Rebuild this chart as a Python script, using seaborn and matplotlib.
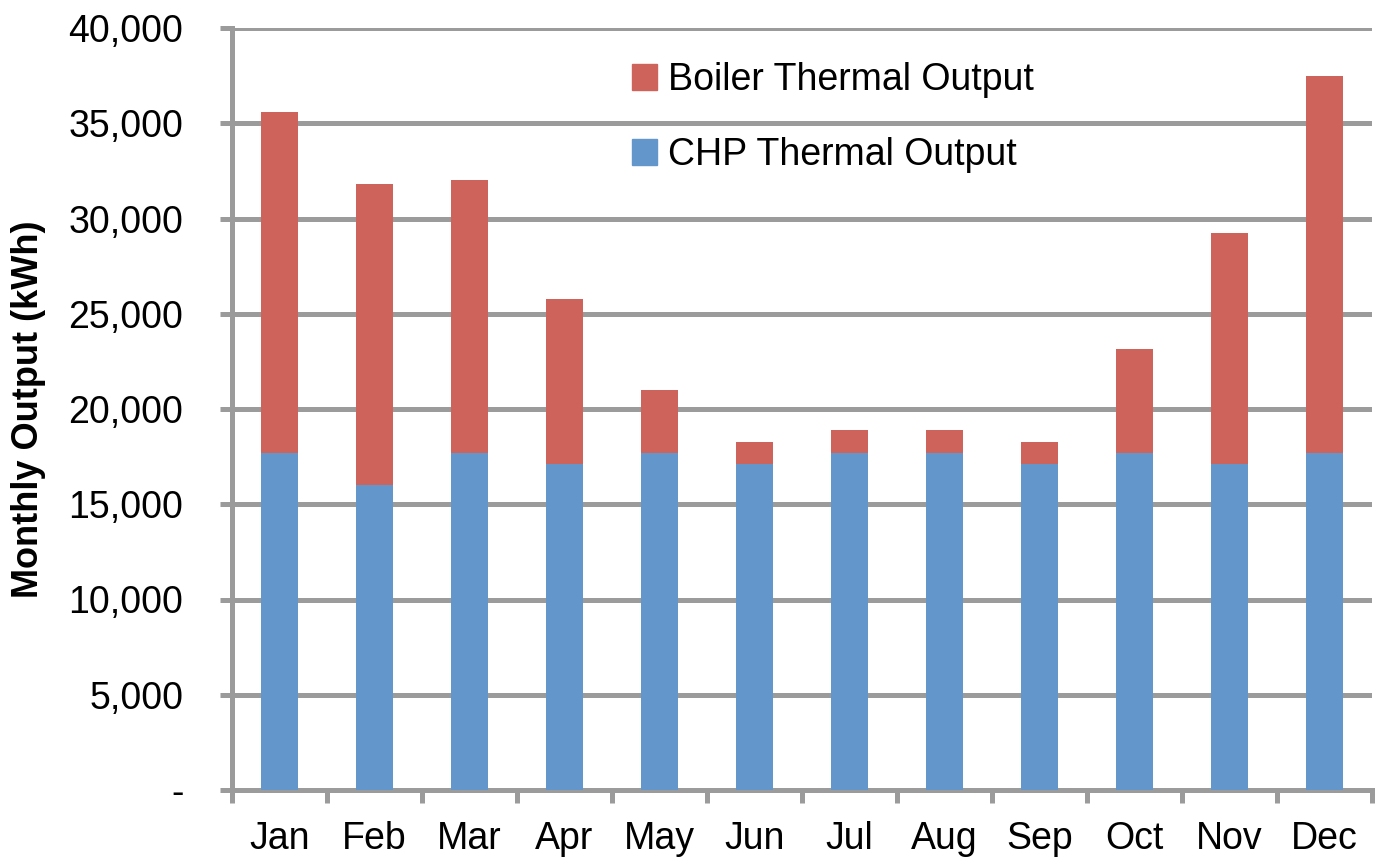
import numpy as np
import pandas as pd
import matplotlib
matplotlib.use("Agg")
import matplotlib.pyplot as plt
import seaborn as sns
from matplotlib.patches import Patch
from matplotlib.ticker import FuncFormatter, FixedLocator

months = ["Jan", "Feb", "Mar", "Apr", "May", "Jun", "Jul", "Aug", "Sep", "Oct", "Nov", "Dec"]
chp = [17700, 16000, 17700, 17100, 17700, 17100, 17700, 17700, 17100, 17700, 17100, 17700]
boiler = [17900, 15800, 14300, 8650, 3300, 1150, 1200, 1200, 1150, 5450, 12150, 19800]

df = pd.DataFrame({"Month": months, "CHP": chp, "Boiler": boiler})
df["Total"] = df["CHP"] + df["Boiler"]

red = "#CD635A"
blue = "#6396CB"
grey = "#9B9B9B"

sns.set_style("white")
plt.rcParams["font.family"] = ["Liberation Sans", "DejaVu Sans"]
plt.rcParams["text.color"] = "black"
plt.rcParams["xtick.labelcolor"] = "black"
plt.rcParams["ytick.labelcolor"] = "black"

fig = plt.figure(figsize=(13.79, 8.58), dpi=100)
ax = fig.add_axes([232 / 1379, 1 - 790 / 858, 1140 / 1379, 762 / 858])

# stacked look: totals in red, CHP share drawn over them in blue
sns.barplot(data=df, x="Month", y="Total", color=red, width=0.39,
            saturation=1, linewidth=0, ax=ax, zorder=3)
sns.barplot(data=df, x="Month", y="CHP", color=blue, width=0.39,
            saturation=1, linewidth=0, ax=ax, zorder=4)

ax.set_xlim(-0.5, 11.5)
ax.set_ylim(0, 40000)
ax.set_yticks(np.arange(0, 40001, 5000))
ax.yaxis.set_major_formatter(FuncFormatter(lambda v, p: "-" if v == 0 else f"{v:,.0f}"))
ax.grid(axis="y", color=grey, linewidth=3.6, zorder=0)
ax.set_axisbelow(True)

for s in ["top", "right"]:
    ax.spines[s].set_visible(False)
for s in ["left", "bottom"]:
    ax.spines[s].set_color(grey)
    ax.spines[s].set_linewidth(3.6)
    ax.spines[s].set_zorder(1)

ax.tick_params(axis="y", length=9, width=3.6, color=grey, labelsize=27, pad=26,
               left=True, labelcolor="black")
ax.tick_params(axis="x", which="major", length=0, labelsize=27, pad=22, labelcolor="black")
ax.xaxis.set_minor_locator(FixedLocator(np.arange(-0.5, 12, 1)))
ax.tick_params(axis="x", which="minor", length=9, width=3.6, color=grey, bottom=True)

ax.set_xlabel("")
ax.set_ylabel("Monthly Output (kWh)", fontsize=26, fontweight="bold", color="black")
ax.yaxis.set_label_coords(-0.163, 0.5)

handles = [Patch(color=red, label="Boiler Thermal Output"),
           Patch(color=blue, label="CHP Thermal Output")]
fig.legend(handles=handles, loc="upper left", bbox_to_anchor=(632 / 1379, 1 - 62 / 858),
           frameon=False, fontsize=27, handlelength=0.67, handleheight=0.67,
           handletextpad=0.3, labelspacing=1.05, borderpad=0, borderaxespad=0,
           labelcolor="black")

fig.savefig("out.png", dpi=100)
